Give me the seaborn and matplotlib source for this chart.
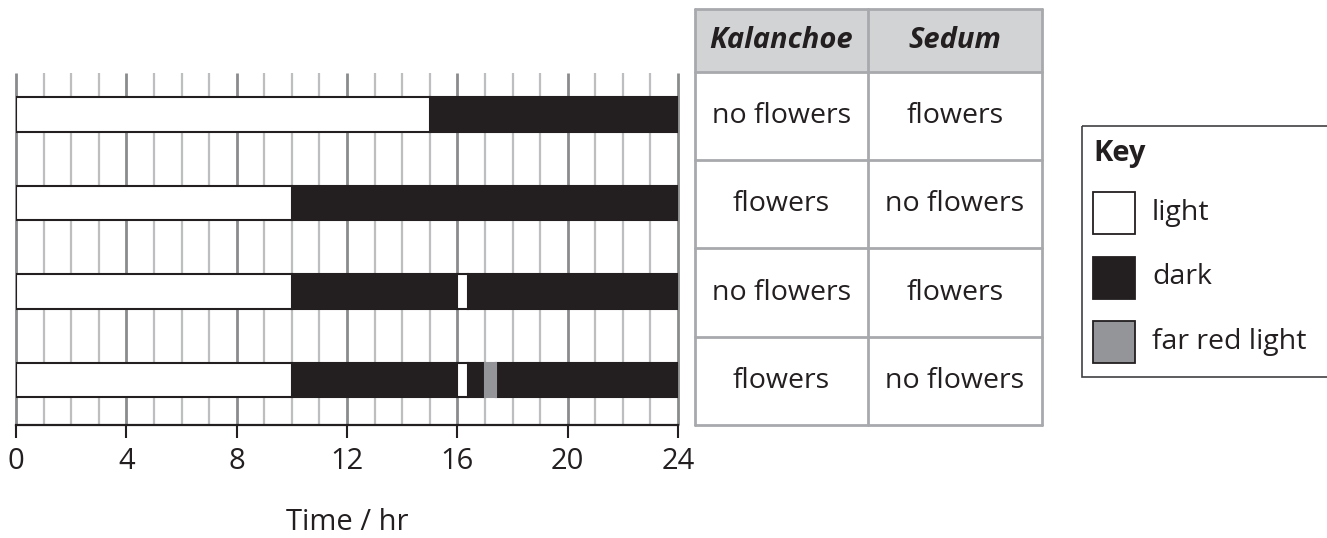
import numpy as np
import pandas as pd
import matplotlib.pyplot as plt
import seaborn as sns
from matplotlib.patches import Rectangle

# photoperiod treatments, one row per segment (hours)
seg_row = [0, 0, 1, 1, 2, 2, 2, 2, 3, 3, 3, 3, 3, 3]
seg_start = [0, 15, 0, 10, 0, 10, 16, 16.4, 0, 10, 16, 16.4, 17, 17.4]
seg_end = [15, 24, 10, 24, 10, 16, 16.4, 24, 10, 16, 16.4, 17, 17.4, 24]
seg_kind = ['light', 'dark', 'light', 'dark', 'light', 'dark', 'light', 'dark',
            'light', 'dark', 'light', 'dark', 'far red light', 'dark']

hours = list(range(25))
hour_ticks = [0, 4, 8, 12, 16, 20, 24]

# results table
headers = ['Kalanchoe', 'Sedum']
kalanchoe = ['no flowers', 'flowers', 'no flowers', 'flowers']
sedum = ['flowers', 'no flowers', 'flowers', 'no flowers']

key_labels = ['light', 'dark', 'far red light']

ink = '#231f20'
fill = {'light': 'white', 'dark': ink, 'far red light': '#939598'}
edge = {'light': ink, 'dark': ink, 'far red light': '#939598'}

df = pd.DataFrame({'row': seg_row, 'start': seg_start, 'end': seg_end, 'kind': seg_kind})
df['width'] = df['end'] - df['start']

sns.set_theme(style='white')
plt.rcParams['font.family'] = ['Open Sans', 'DejaVu Sans']
plt.rcParams['text.color'] = ink

W, H = 1327, 538
fig = plt.figure(figsize=(W / 100, H / 100), dpi=100)

# main time-line axes, placed by pixel box
left, right, top, bottom = 16, 678, 73, 425
ax = fig.add_axes([left / W, (H - bottom) / H, (right - left) / W, (bottom - top) / H])
ax.set_xlim(0, 24)
ax.set_ylim(3.508, -0.469)

# hour grid
minor = [h for h in hours if h % 4]
ax.vlines(minor, 0, 1, transform=ax.get_xaxis_transform(), colors='#bcbec0',
          lw=1.6, zorder=0, clip_on=False)
ax.vlines(hour_ticks, 0, 1, transform=ax.get_xaxis_transform(), colors='#8a8b8d',
          lw=2.0, zorder=0, clip_on=False)

for kind, g in df.groupby('kind'):
    ax.barh(g['row'], g['width'], left=g['start'], height=0.385,
            color=fill[kind], edgecolor=edge[kind], lw=1.5, zorder=2)

ax.set_yticks([])
ax.set_xticks(hour_ticks)
ax.set_xticklabels([str(h) for h in hour_ticks], fontsize=21, color=ink)
ax.tick_params(axis='x', bottom=True, direction='out', length=9, width=1.5,
               color=ink, pad=7)
for s in ['top', 'left', 'right']:
    ax.spines[s].set_visible(False)
ax.spines['bottom'].set_color(ink)
ax.spines['bottom'].set_linewidth(1.6)
ax.spines['bottom'].set_zorder(3)
ax.set_xlabel('Time / hr', fontsize=21, color=ink)
ax.xaxis.set_label_coords(0.5, -0.235)
ax.patch.set_alpha(0)

# overlay in pixel coords for the table and the key
ov = fig.add_axes([0, 0, 1, 1])
ov.set_xlim(0, W)
ov.set_ylim(H, 0)
ov.axis('off')
ov.patch.set_alpha(0)

col_x = [695, 868, 1042]
row_y = [9, 72, 160, 248, 337, 425]
grey = '#a7a9ac'
ov.add_patch(Rectangle((col_x[0], row_y[0]), col_x[2] - col_x[0], row_y[1] - row_y[0],
                       facecolor='#d1d3d4', edgecolor='none'))
for y in row_y:
    ov.plot([col_x[0], col_x[2]], [y, y], color=grey, lw=2)
for x in col_x:
    ov.plot([x, x], [row_y[0], row_y[-1]], color=grey, lw=2)

for j, h in enumerate(headers):
    ov.text((col_x[j] + col_x[j + 1]) / 2, (row_y[0] + row_y[1]) / 2, h,
            ha='center', va='center', fontsize=21, fontweight='bold', fontstyle='italic')
for i, (k, s) in enumerate(zip(kalanchoe, sedum)):
    yc = (row_y[i + 1] + row_y[i + 2]) / 2
    ov.text((col_x[0] + col_x[1]) / 2, yc, k, ha='center', va='center', fontsize=20.5)
    ov.text((col_x[1] + col_x[2]) / 2, yc, s, ha='center', va='center', fontsize=20.5)

# key
ov.add_patch(Rectangle((1082, 126), 300, 251, facecolor='none', edgecolor='#414042', lw=1.2))
ov.text(1093, 153, 'Key', ha='left', va='center', fontsize=21, fontweight='bold')
for i, lab in enumerate(key_labels):
    y0 = 192 + i * 64.5
    ov.add_patch(Rectangle((1093, y0), 42, 42, facecolor=fill[lab], edgecolor=ink, lw=1.3))
    ov.text(1152, y0 + 21, lab, ha='left', va='center', fontsize=20.5)

fig.savefig('out.png', dpi=100)
